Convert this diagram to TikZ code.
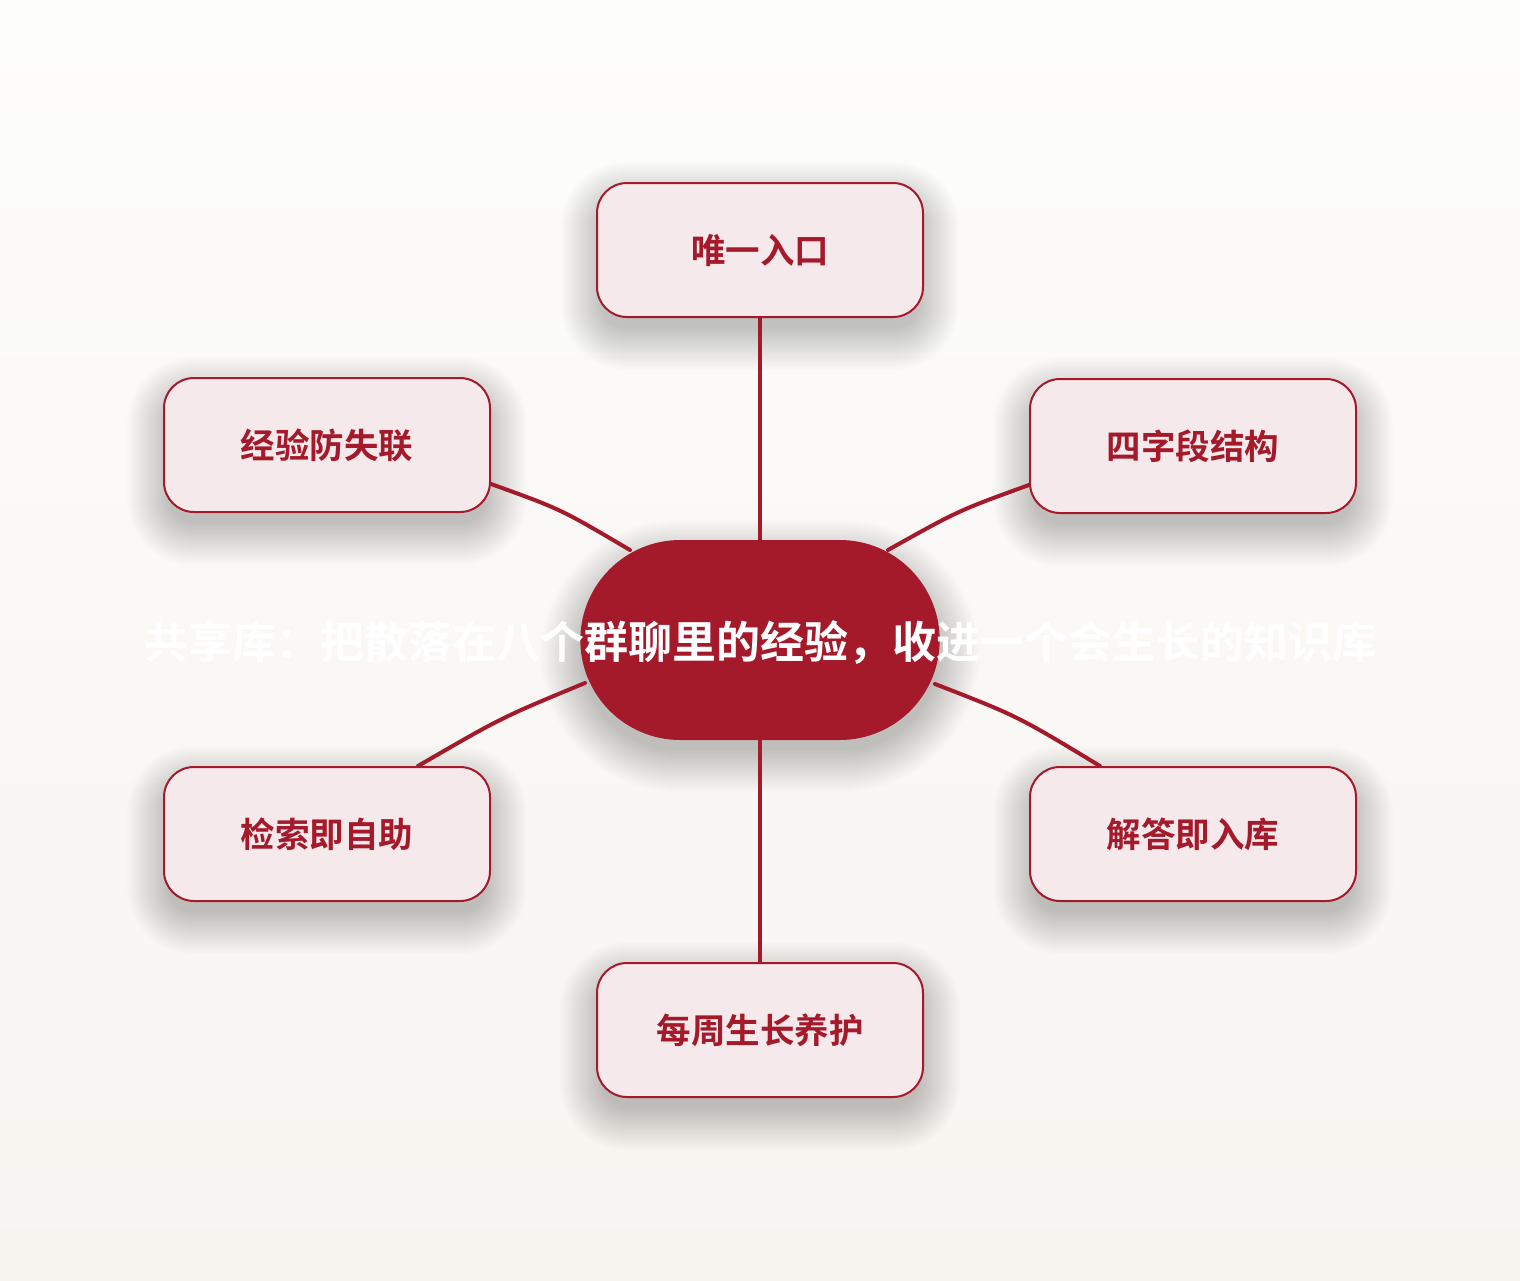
\documentclass[tikz,border=0pt]{standalone}
\usepackage{fontspec}
\setmainfont{Noto Sans CJK SC}[BoldFont={Noto Sans CJK SC Bold}]
\usetikzlibrary{shapes.misc,calc,backgrounds}
\definecolor{hub}{HTML}{A51A2B}
\definecolor{boxfill}{HTML}{F5E9EC}
\definecolor{bgtop}{HTML}{FDFDFC}
\definecolor{bgbot}{HTML}{F7F4F0}
\pgfdeclarelayer{bg}
\pgfdeclarelayer{shadow}
\pgfsetlayers{bg,shadow,main}
\tikzset{
  leaf/.style={draw=hub, line width=2pt, fill=boxfill, rounded corners=30pt,
    minimum width=326pt, minimum height=134pt, text=hub,
    font=\bfseries\fontsize{34.5}{40}\selectfont},
  hubshape/.style={rounded rectangle, fill=hub, minimum width=366pt, minimum height=200pt},
  hubtext/.style={text=white, font=\bfseries\fontsize{44}{52}\selectfont},
  link/.style={draw=hub, line width=4pt, line cap=round},
  shadowlayer/.style={fill=black, fill opacity=0.0065}
}
\begin{document}
\begin{tikzpicture}[x=1pt,y=-1pt]
\begin{pgfonlayer}{bg}
\shade[top color=bgtop, bottom color=bgbot] (0,0) rectangle (1520,1280);
\end{pgfonlayer}
\useasboundingbox (0,0) rectangle (1520,1280);

\node[leaf] (t)  at (760,250)  {唯一入口};
\node[leaf] (ul) at (327,445)  {经验防失联};
\node[leaf] (ur) at (1193,446) {四字段结构};
\node[leaf] (ll) at (327,834)  {检索即自助};
\node[leaf] (lr) at (1193,834) {解答即入库};
\node[leaf] (b)  at (760,1030) {每周生长养护};

\coordinate (c) at (760,640);

\begin{pgfonlayer}{shadow}
\foreach \n in {t,ul,ur,ll,lr,b}{
  \foreach \i in {0,...,28}{
    \pgfmathsetmacro{\e}{-6+1.5*\i}
    \fill[shadowlayer, rounded corners=30+\e]
      ($(\n.south west)+(-\e,16+\e)$) rectangle ($(\n.north east)+(\e,16-\e)$);
  }
}
\foreach \i in {0,...,28}{
  \pgfmathsetmacro{\e}{-6+1.5*\i}
  \fill[shadowlayer, rounded corners=100+\e]
    ($(c)+(-183-\e,100+16+\e)$) rectangle ($(c)+(183+\e,-100+16-\e)$);
}
\end{pgfonlayer}

\draw[link] (t.south) -- (c);
\draw[link] (b.north) -- (c);
\draw[link] ($(ul.east)+(0,39)$) .. controls ($($(ul.east)+(0,39)$)!0.5!($(c)+(-130,-90)$)+(0,-8)$) .. ($(c)+(-130,-90)$);
\draw[link] ($(ur.west)+(0,39)$) .. controls ($($(ur.west)+(0,39)$)!0.5!($(c)+(128,-90)$)+(0,-7)$) .. ($(c)+(128,-90)$);
\draw[link] ($(ll.north)+(91,0)$) .. controls ($($(ll.north)+(91,0)$)!0.5!($(c)+(-175,43)$)+(0,-7)$) .. ($(c)+(-175,43)$);
\draw[link] ($(lr.north)+(-93,0)$) .. controls ($($(lr.north)+(-93,0)$)!0.5!($(c)+(175,44)$)+(0,-9)$) .. ($(c)+(175,44)$);

\node[hubshape] (hub) at (c) {};
\node[hubtext] (ht) at (760,643) {共享库：把散落在八个群聊里的经验，收进一个会生长的知识库};
\end{tikzpicture}
\end{document}
